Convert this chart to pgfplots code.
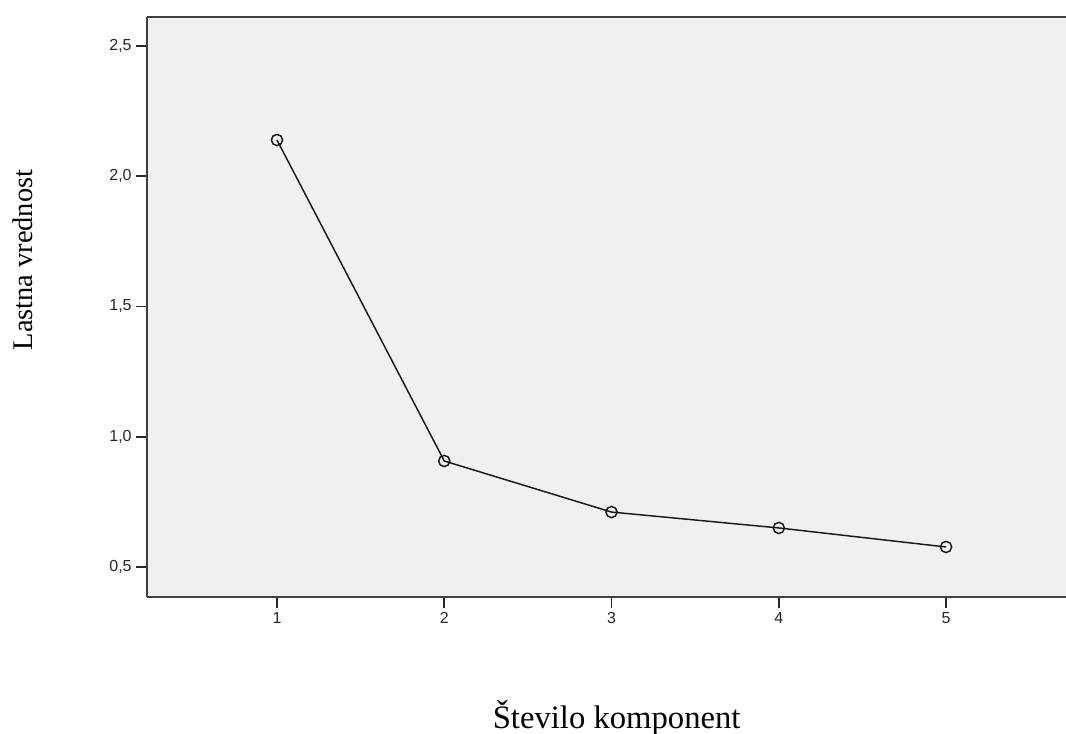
\documentclass[border=0pt]{standalone}
\usepackage{fontspec}
\setmainfont{Liberation Sans}
\newfontfamily\labfont{Liberation Serif}
\usepackage{pgfplots}
\pgfplotsset{compat=1.18}
\begin{document}
\begin{tikzpicture}
\begin{axis}[name=ax, scale only axis, width=689.25pt, height=435pt,
  xmin=0.223, xmax=5.717, ymin=0.385, ymax=2.611,
  axis x line*=box, axis y line*=left,
  xtick={1,2,3,4,5}, ytick={0.5,1,1.5,2,2.5},
  xtick pos=bottom, ytick pos=left, tick align=outside,
  major tick length=8pt,
  tick style={black!85, line width=1.2pt},
  axis line style={-, black!75, line width=2.2pt},
  axis background/.style={fill=black!6},
  /pgf/number format/assume math mode=true,
  yticklabel style={/pgf/number format/.cd, use comma, fixed, fixed zerofill, precision=1},
  ticklabel style={font=\fontsize{12}{14}\selectfont, text=black!85},
  xlabel={Število komponent}, ylabel={Lastna vrednost},
  xlabel style={at={(axis description cs:0.511,-0.209)}, anchor=center, font=\labfont\fontsize{24.5}{28}\selectfont},
  ylabel style={at={(axis description cs:-0.135,0.581)}, anchor=center, font=\labfont\fontsize{21.3}{25}\selectfont},
]
\addplot[black!90, line width=1.1pt, mark=o, mark size=4.2pt, mark options={line width=1.1pt}]
  coordinates {(1,2.139) (2,0.907) (3,0.711) (4,0.650) (5,0.577)};
\end{axis}
\pgfresetboundingbox
\path ([xshift=-110.25pt,yshift=-102.75pt]ax.south west) rectangle ([yshift=12.75pt]ax.north east);
\end{tikzpicture}
\end{document}
